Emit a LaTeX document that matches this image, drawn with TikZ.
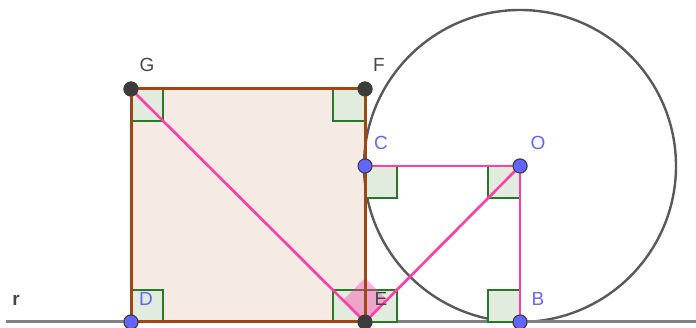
\documentclass[tikz,border=0pt]{standalone}
\usepackage{fontspec}
\setmainfont{Liberation Sans}
\usepackage{tikz}
\definecolor{sqbrown}{RGB}{160, 70, 20}
\definecolor{sqfill}{RGB}{245, 234, 228}
\definecolor{segpink}{RGB}{255, 60, 170}
\definecolor{markgreen}{RGB}{40, 120, 40}
\definecolor{markfill}{RGB}{226, 236, 222}
\definecolor{ptblue}{RGB}{100, 100, 255}
\definecolor{ptdark}{RGB}{60, 60, 60}
\definecolor{labgray}{RGB}{70, 70, 70}

\tikzset{
  ptb/.style={circle, draw=ptdark, fill=ptblue, line width=1pt, inner sep=0pt, minimum size=14pt},
  ptd/.style={circle, draw=ptdark, fill=ptdark, line width=1pt, inner sep=0pt, minimum size=14pt},
  labb/.style={text=ptblue, font=\fontsize{19}{19}\selectfont},
  labd/.style={text=labgray, font=\fontsize{19}{19}\selectfont},
  rmark/.style={draw=markgreen, fill=markfill, line width=2pt},
  seg/.style={segpink, line width=2.6pt},
  side/.style={sqbrown, line width=3pt}
}

\begin{document}
\begin{tikzpicture}[x=1pt, y=-1pt]
  \useasboundingbox (0,0) rectangle (696,328);
  % Points
  \coordinate (rl) at (6,322);
  \coordinate (rr) at (696,322);
  \node[ptd] (G) at (131,89) {};
  \node[ptd] (F) at (365,89) {};
  \node[ptd] (E) at (365,322) {};
  \node[ptb] (D) at (131,322) {};
  \node[ptb] (C) at (365,166) {};
  \node[ptb] (O) at (520,166) {};
  \node[ptb] (B) at (520,322) {};

  % Square and circle
  \fill[sqfill] (G.center) -- (F.center) -- (E.center) -- (D.center) -- cycle;
  \draw[gray!70!black, line width=2.4pt] (O.center) circle[radius=156pt];
  \draw[gray, line width=3pt] (rl) -- (rr);

  % Right angles
  \draw[rmark] (131,89) rectangle (163,121);
  \draw[rmark] (333,89) rectangle (365,121);
  \draw[rmark] (131,290) rectangle (163,322);
  \draw[rmark] (333,290) rectangle (365,322);
  \draw[rmark] (365,290) rectangle (397,322);
  \draw[rmark] (365,166) rectangle (397,198);
  \draw[rmark] (488,166) rectangle (520,198);
  \draw[rmark] (488,290) rectangle (520,322);
  \fill[segpink, opacity=0.4] (E.center) -- ++(-22,-22) -- ++(22,-22) -- ++(22,22) -- cycle;

  % Sides
  \draw[side] (G.center) -- (F.center) -- (E.center) -- (D.center) -- cycle;

  % Segments
  \draw[seg] (G.center) -- (E.center);
  \draw[seg] (E.center) -- (O.center);
  \draw[seg] (C.center) -- (O.center);
  \draw[seg] (O.center) -- (B.center);

  % Points on top
  \node[ptd] at (G) {};
  \node[ptd] at (F) {};
  \node[ptd] at (E) {};
  \node[ptb] at (D) {};
  \node[ptb] at (C) {};
  \node[ptb] at (O) {};
  \node[ptb] at (B) {};

  % Labels
  \node[labd] (labG) at (147,65) {G};
  \node[labd] (labF) at (379,65) {F};
  \node[labb] (labC) at (381,143) {C};
  \node[labb] (labO) at (538,143) {O};
  \node[labd] (labE) at (381,299) {E};
  \node[labb] (labB) at (538,299) {B};
  \node[labb] (labD) at (146,299) {D};
  \node[labd, font=\bfseries\fontsize{19}{19}\selectfont] (labr) at (16,300) {r};
\end{tikzpicture}
\end{document}
